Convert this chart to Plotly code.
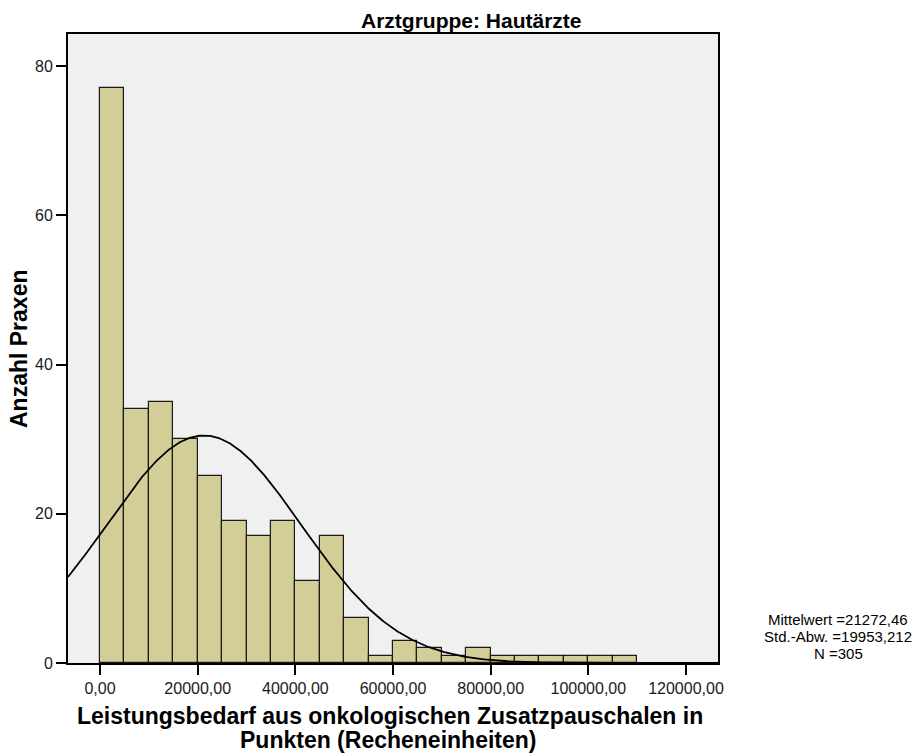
import numpy as np
import plotly.graph_objects as go

# Data
bin_width = 5000
bin_start = 0
counts = [77, 34, 35, 30, 25, 19, 17, 19, 11, 17, 6, 1, 3, 2, 1, 2, 1, 1, 1, 1, 1, 1]
mean_val = 21272.46
sd_val = 19953.212
n_val = 305
x_ticks = [0, 20000, 40000, 60000, 80000, 100000, 120000]
x_tick_labels = ["0,00", "20000,00", "40000,00", "60000,00", "80000,00", "100000,00", "120000,00"]
y_ticks = [0, 20, 40, 60, 80]

title_text = "Arztgruppe: Hautärzte"
x_title_lines = ["Leistungsbedarf aus onkologischen Zusatzpauschalen in", "Punkten (Recheneinheiten)"]
y_title = "Anzahl Praxen"
stats_lines = ["Mittelwert =21272,46", "Std.-Abw. =19953,212", "N =305"]

centers = [bin_start + bin_width * (i + 0.5) for i in range(len(counts))]

x_range = [-6560, 126560]
y_range = [0, 84.3]

xs = np.linspace(x_range[0], x_range[1], 600)
ys = n_val * bin_width / (sd_val * np.sqrt(2 * np.pi)) * np.exp(-0.5 * ((xs - mean_val) / sd_val) ** 2)

font_family = "Arial, Liberation Sans, sans-serif"

W, H = 924, 753
ML, MR, MT, MB = 68, 924 - 718, 34, 753 - 663
PW, PH = W - ML - MR, H - MT - MB


def px_x(x):
    return (x - ML) / PW


def px_y(y):
    return (H - MB - y) / PH


fig = go.Figure()
fig.add_trace(go.Bar(
    x=centers, y=counts, width=bin_width,
    marker=dict(color="#d3ce98", line=dict(color="#1a1a1a", width=1.2)),
    hoverinfo="x+y", showlegend=False,
))
fig.add_trace(go.Scatter(
    x=xs, y=ys, mode="lines", line=dict(color="#000000", width=1.8),
    hoverinfo="skip", showlegend=False,
))

annotations = [
    dict(text="<b>" + title_text + "</b>", x=px_x(471), y=px_y(20.5),
         font=dict(size=21)),
    dict(text="<b>" + x_title_lines[0] + "</b>", x=px_x(390), y=px_y(715.5),
         font=dict(size=23)),
    dict(text="<b>" + x_title_lines[1] + "</b>", x=px_x(388), y=px_y(739.5),
         font=dict(size=23)),
    dict(text="<b>" + y_title + "</b>", x=px_x(19), y=px_y(349), textangle=-90,
         font=dict(size=23)),
]
for txt, yy in zip(stats_lines, [619, 636, 653]):
    annotations.append(dict(text=txt, x=px_x(838), y=px_y(yy), font=dict(size=15)))

for a in annotations:
    a.update(xref="paper", yref="paper", xanchor="center", yanchor="middle",
             showarrow=False)

fig.update_layout(
    width=W, height=H,
    margin=dict(l=ML, r=MR, t=MT, b=MB, pad=0),
    paper_bgcolor="#ffffff",
    plot_bgcolor="#f0f0f0",
    font=dict(family=font_family, color="#000000", size=16),
    bargap=0,
    annotations=annotations,
)

fig.update_xaxes(
    range=x_range, tickvals=x_ticks, ticktext=x_tick_labels,
    ticks="outside", ticklen=10, tickwidth=1.8, tickcolor="#000000",
    showgrid=False, zeroline=False,
    showline=True, linecolor="#000000", linewidth=1.8, mirror=True,
    tickfont=dict(size=16, color="#1a1a1a"),
)
fig.update_yaxes(
    range=y_range, tickvals=y_ticks,
    ticks="outside", ticklen=10, tickwidth=1.8, tickcolor="#000000",
    showgrid=False, zeroline=False,
    showline=True, linecolor="#000000", linewidth=1.8, mirror=True,
    tickfont=dict(size=16, color="#1a1a1a"),
)

fig.write_html(
    "out.html",
    config={"displayModeBar": False},
    post_script="document.body.style.margin='0';document.body.style.overflow='hidden';",
)
